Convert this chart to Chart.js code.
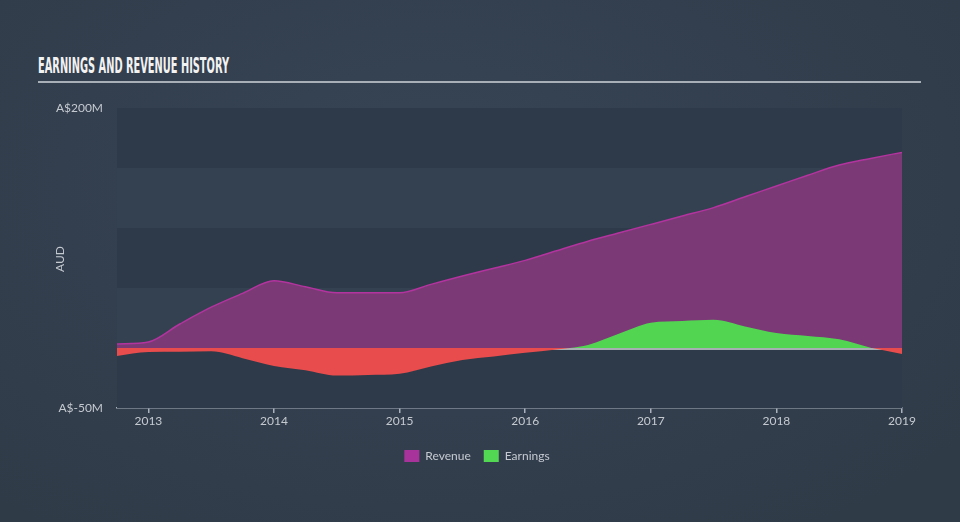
<!DOCTYPE html>
<html>
<head>
<meta charset="utf-8">
<script src="https://cdn.jsdelivr.net/npm/chart.js@4/dist/chart.umd.min.js"></script>
<style>
  html, body { margin: 0; padding: 0; }
  #wrap {
    position: relative; width: 960px; height: 522px; overflow: hidden;
    background: radial-gradient(ellipse 70% 80% at 45% 35%, #374555 0%, #333f4e 55%, #303b48 100%);
  }
  #title {
    position: absolute; left: 38px; top: 56px; margin: 0;
    font-family: "Liberation Sans Narrow", "DejaVu Sans Condensed", "Liberation Sans", sans-serif;
    font-weight: bold; font-size: 21px; line-height: 21px; color: #f2f2f2;
    white-space: nowrap; transform-origin: 0 0;
  }
  #rule { position: absolute; left: 38px; top: 81px; width: 883px; height: 2px; background: #a9afb7; }
  #c { position: absolute; left: 0; top: 0; }
</style>
</head>
<body>
<div id="wrap">
  <div id="title">EARNINGS AND REVENUE HISTORY</div>
  <div id="rule"></div>
  <canvas id="c" width="960" height="522"></canvas>
</div>
<script>
// ---- data (A$ millions), quarterly ----
const periods = [2012.75, 2013, 2013.25, 2013.5, 2013.75, 2014, 2014.25, 2014.5, 2014.75, 2015,
  2015.25, 2015.5, 2015.75, 2016, 2016.25, 2016.5, 2016.75, 2017, 2017.25, 2017.5,
  2017.75, 2018, 2018.25, 2018.5, 2018.75, 2019];
const revenue = [3.3, 5, 20, 34, 45.5, 56, 51, 46, 46, 46,
  53, 60, 66.5, 73, 81, 89, 96, 103, 110, 117,
  126, 135, 144, 152.5, 158, 163];
const earnings = [-6.7, -3.4, -3.1, -2.8, -8.5, -15, -18.5, -23, -22.5, -21.5,
  -15.5, -10, -7, -4, -1.2, 2.5, 12, 21, 22.5, 23.5,
  18, 12.5, 10, 7.2, 0.3, -5];
const yearTicks = [2013, 2014, 2015, 2016, 2017, 2018, 2019];
const yTickValues = [-50, 200];
const yTickLabels = { "-50": "A$-50M", "200": "A$200M" };
const seriesNames = ["Revenue", "Earnings"];

// title width fit
const t = document.getElementById('title');
const natural = t.getBoundingClientRect().width;
t.style.transform = 'scaleX(' + (191 / natural) + ')';

const FONT = "Lato, 'Open Sans', sans-serif";
const TXT = '#c5cad1';

const bandsPlugin = {
  id: 'bands',
  afterLayout(chart) {
    if (chart.legend) { chart.legend.left = 0; chart.legend.right = 954; }
  },
  beforeDatasetsDraw(chart) {
    const { ctx, chartArea: a, scales: { y } } = chart;
    ctx.save();
    const cols = ['#2e3a49', '#334151'];
    let k = 0;
    for (let v = 200; v > -50; v -= 50) {
      const y1 = y.getPixelForValue(v), y2 = y.getPixelForValue(v - 50);
      ctx.fillStyle = cols[k % 2];
      ctx.fillRect(a.left, y1, a.right - a.left, y2 - y1);
      k++;
    }
    ctx.restore();
  },
  afterDatasetDraw(chart, args) {
    if (args.index !== 0) return;
    const { ctx, chartArea: a, scales: { y } } = chart;
    const y0 = y.getPixelForValue(0) + 1;
    ctx.save();
    ctx.strokeStyle = '#d2d7d6';
    ctx.lineWidth = 1.5;
    ctx.beginPath();
    ctx.moveTo(a.left, y0);
    ctx.lineTo(a.right, y0);
    ctx.stroke();
    ctx.restore();
  },
  afterDraw(chart) {
    const { ctx } = chart;
    ctx.save();
    ctx.translate(60, 259);
    ctx.rotate(-Math.PI / 2);
    ctx.fillStyle = TXT;
    ctx.font = "12px " + FONT;
    ctx.textAlign = 'center';
    ctx.textBaseline = 'middle';
    ctx.fillText('AUD', 0, 0);
    ctx.restore();
  }
};

const legendColors = ['#a8349b', '#52d852'];

new Chart(document.getElementById('c'), {
  type: 'line',
  data: {
    datasets: [
      {
        label: seriesNames[0],
        data: periods.map((p, i) => ({ x: p, y: revenue[i] })),
        borderColor: '#b3339f',
        borderWidth: 1.5,
        backgroundColor: '#7b3a76',
        fill: 'origin',
        pointRadius: 0,
        cubicInterpolationMode: 'monotone',
        order: 2
      },
      {
        label: seriesNames[1],
        data: periods.map((p, i) => ({ x: p, y: earnings[i] })),
        borderColor: 'rgba(0,0,0,0)',
        borderWidth: 1,
        backgroundColor: '#52d652',
        fill: { target: 'origin', above: '#52d652', below: '#e84c4c' },
        pointRadius: 0,
        cubicInterpolationMode: 'monotone',
        order: 1
      }
    ]
  },
  options: {
    responsive: false,
    animation: false,
    events: [],
    layout: { padding: { left: 0, right: 58, top: 108, bottom: 50 } },
    plugins: {
      tooltip: { enabled: false },
      legend: {
        position: 'bottom',
        labels: {
          boxWidth: 15, boxHeight: 12, padding: 13,
          color: TXT, font: { family: FONT, size: 12 },
          generateLabels(chart) {
            return chart.data.datasets.map((d, i) => ({
              text: d.label, fillStyle: legendColors[i], strokeStyle: legendColors[i],
              lineWidth: 0, hidden: false, datasetIndex: i, fontColor: TXT
            }));
          }
        }
      }
    },
    scales: {
      x: {
        type: 'linear',
        min: periods[0], max: periods[periods.length - 1],
        afterBuildTicks(s) { s.ticks = yearTicks.map(v => ({ value: v })); },
        afterFit(s) { s.height = 29; },
        ticks: {
          color: TXT, font: { family: FONT, size: 12 }, padding: 1,
          maxRotation: 0, autoSkip: false,
          callback: v => String(v)
        },
        grid: { display: true, drawOnChartArea: false, drawTicks: true, tickLength: 5, color: '#a9b2bd', lineWidth: 1.5 },
        border: { display: true, color: '#a9b2bd', width: 1.5 }
      },
      y: {
        min: -50, max: 200,
        afterBuildTicks(s) { s.ticks = yTickValues.map(v => ({ value: v })); },
        afterFit(s) { s.width = 117; },
        ticks: {
          color: TXT, font: { family: FONT, size: 12 }, padding: 14,
          callback: v => yTickLabels[String(v)] || ''
        },
        grid: { display: false, drawTicks: false },
        border: { display: false }
      }
    }
  },
  plugins: [bandsPlugin]
});
</script>
</body>
</html>
